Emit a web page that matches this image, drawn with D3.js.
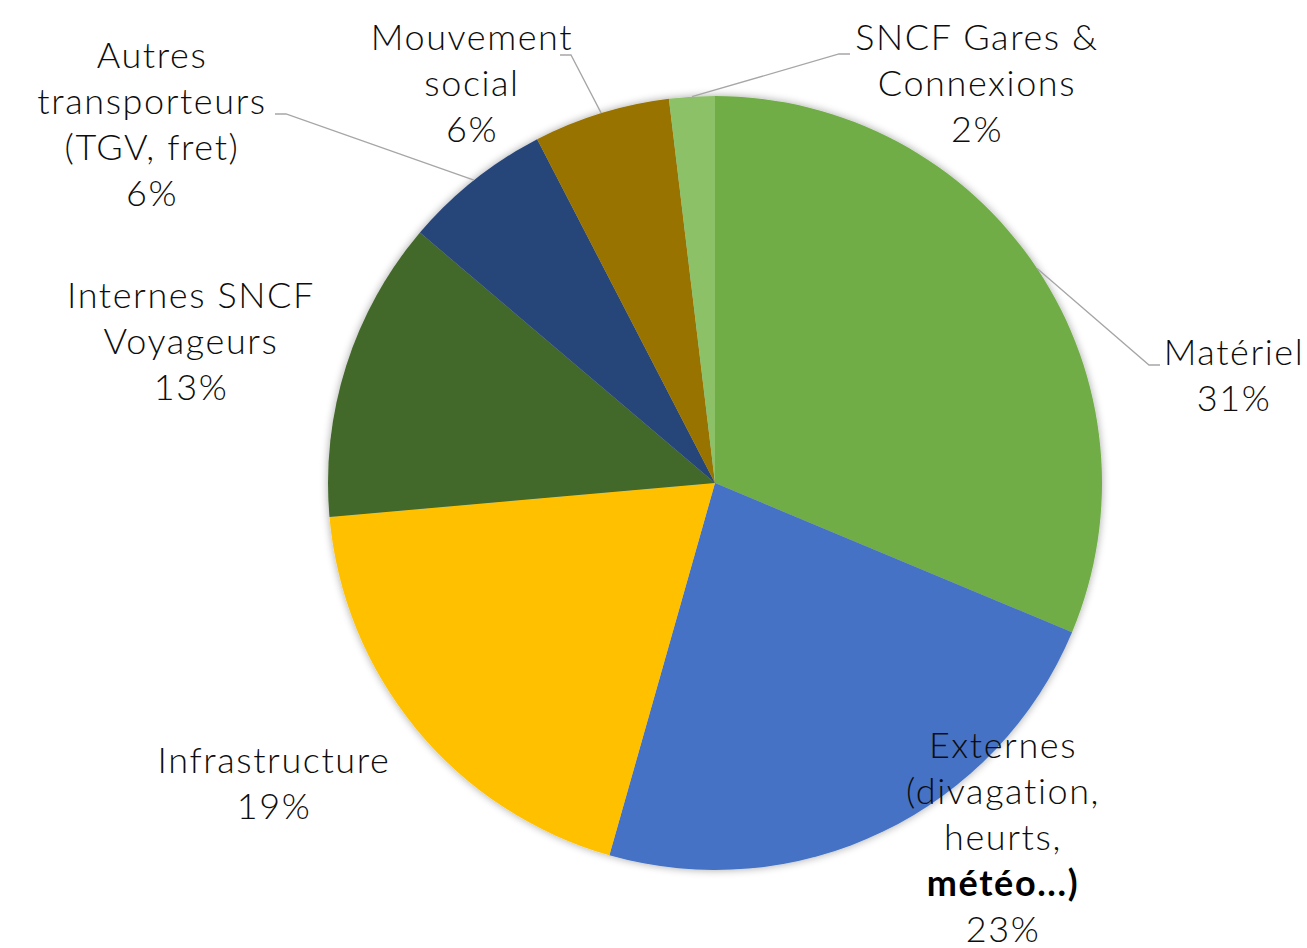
<!DOCTYPE html>
<html>
<head>
<meta charset="utf-8">
<script src="https://cdn.jsdelivr.net/npm/d3@7"></script>
<style>
  body { margin: 0; background: #fff; }
  svg text { font-family: "Lato", "Open Sans", sans-serif; font-weight: 300; fill: #0d0d0d; }
</style>
</head>
<body>
<div id="chart"></div>
<script>
// slices clockwise from 12 o'clock
const categories = [
  'Matériel',
  'Externes (divagation, heurts, météo...)',
  'Infrastructure',
  'Internes SNCF Voyageurs',
  'Autres transporteurs (TGV, fret)',
  'Mouvement social',
  'SNCF Gares & Connexions'
];
const values = [31.3, 23.1, 19.2, 12.6, 6.2, 5.7, 1.9];
const pctLabels = ['31%', '23%', '19%', '13%', '6%', '6%', '2%'];
// how each label is broken into lines
const labelLines = [
  ['Matériel'],
  ['Externes', '(divagation,', 'heurts,', 'météo...)'],
  ['Infrastructure'],
  ['Internes SNCF', 'Voyageurs'],
  ['Autres', 'transporteurs', '(TGV, fret)'],
  ['Mouvement', 'social'],
  ['SNCF Gares &', 'Connexions']
];
const colors = ['#70AD47', '#4472C4', '#FFC000', '#43682B', '#264478', '#997300', '#8CC168'];

const width = 1307, height = 948;
const cx = 715, cy = 483, radius = 387;

// label layout: centre x, first baseline y, optional leader elbow
const labelPos = [
  { x: 1234, y: 365, leader: { x: 1160, y: 365, side: -1 } },
  { x: 1003, y: 758 },
  { x: 274, y: 773 },
  { x: 191, y: 308 },
  { x: 152, y: 68, leader: { x: 275, y: 114, side: 1 } },
  { x: 472, y: 50, leader: { x: 560, y: 55, side: 1 } },
  { x: 977, y: 50, leader: { x: 850, y: 54, side: -1 } }
];
const lineH = 46;

const svg = d3.select('#chart')
  .append('svg')
  .attr('width', width)
  .attr('height', height);

const defs = svg.append('defs');
const shadow = defs.append('filter')
  .attr('id', 'shadow')
  .attr('x', '-10%').attr('y', '-10%')
  .attr('width', '120%').attr('height', '120%');
shadow.append('feGaussianBlur').attr('in', 'SourceAlpha').attr('stdDeviation', 4);
shadow.append('feOffset').attr('dx', 0).attr('dy', 0).attr('result', 'b');
shadow.append('feComponentTransfer').append('feFuncA').attr('type', 'linear').attr('slope', 0.35);
const merge = shadow.append('feMerge');
merge.append('feMergeNode');
merge.append('feMergeNode').attr('in', 'SourceGraphic');

const data = categories.map((c, i) => ({ name: c, value: values[i], i }));

const pie = d3.pie().sort(null).value(d => d.value);
const arcs = pie(data);
const arc = d3.arc().innerRadius(0).outerRadius(radius);

const g = svg.append('g').attr('transform', `translate(${cx},${cy})`);

g.append('g')
  .attr('filter', 'url(#shadow)')
  .selectAll('path')
  .data(arcs)
  .join('path')
  .attr('d', arc)
  .attr('fill', d => colors[d.data.i]);

// leader lines
arcs.forEach(a => {
  const p = labelPos[a.data.i];
  if (!p.leader) return;
  const mid = (a.startAngle + a.endAngle) / 2;
  const ex = cx + radius * Math.sin(mid);
  const ey = cy - radius * Math.cos(mid);
  const l = p.leader;
  const pts = [[l.x, l.y], [l.x + l.side * 11, l.y], [ex, ey]];
  svg.append('path')
    .attr('d', d3.line()(pts))
    .attr('fill', 'none')
    .attr('stroke', '#A6A6A6')
    .attr('stroke-width', 1.3);
});

// labels
data.forEach(d => {
  const p = labelPos[d.i];
  const t = svg.append('text')
    .attr('text-anchor', 'middle')
    .style('font-size', '36px')
    .style('letter-spacing', '1.6px');
  const lines = labelLines[d.i].concat([pctLabels[d.i]]);
  lines.forEach((ln, k) => {
    const ts = t.append('tspan')
      .attr('x', p.x)
      .attr('y', p.y + k * lineH)
      .text(ln);
    if (ln === 'météo...)') ts.style('font-weight', 700).style('fill', '#000');
  });
});
</script>
</body>
</html>
